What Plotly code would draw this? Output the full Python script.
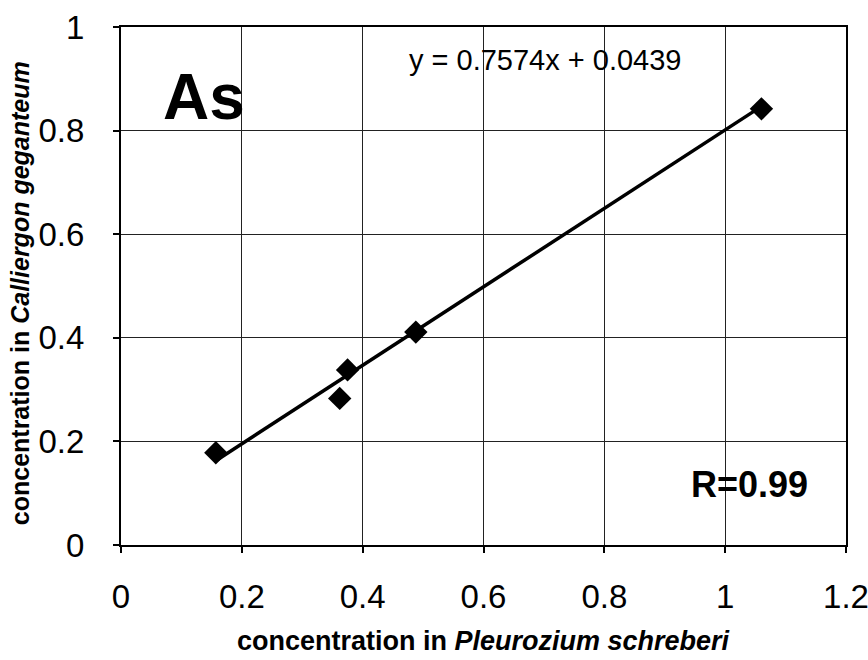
import plotly.graph_objects as go

# Arsenic concentrations measured in two moss species
x_pleurozium = [0.157, 0.362, 0.375, 0.488, 1.060]
y_calliergon = [0.178, 0.283, 0.338, 0.411, 0.842]

# Linear fit reported on the chart
slope = 0.7574
intercept = 0.0439
r_value = 0.99

x_ticks = [0, 0.2, 0.4, 0.6, 0.8, 1.0, 1.2]
x_tick_text = ["0", "0.2", "0.4", "0.6", "0.8", "1", "1.2"]
y_ticks = [0, 0.2, 0.4, 0.6, 0.8, 1.0]
y_tick_text = ["0", "0.2", "0.4", "0.6", "0.8", "1"]

FONT = "Liberation Sans, Arial, Helvetica, sans-serif"

x_fit = [min(x_pleurozium), max(x_pleurozium)]
y_fit = [slope * v + intercept for v in x_fit]

fig = go.Figure()
fig.add_trace(go.Scatter(
    x=x_fit, y=y_fit, mode="lines",
    line=dict(color="black", width=3.5),
    showlegend=False, hoverinfo="skip",
))
fig.add_trace(go.Scatter(
    x=x_pleurozium, y=y_calliergon, mode="markers",
    marker=dict(symbol="diamond", size=18, color="black"),
    showlegend=False,
))

fig.add_annotation(
    x=0.137, y=0.865, xref="x", yref="y", text="<b>As</b>", showarrow=False,
    font=dict(family=FONT, size=64, color="black"),
)
fig.add_annotation(
    x=0.702, y=0.936, xref="x", yref="y",
    text=f"y = {slope}x + {intercept}", showarrow=False,
    font=dict(family=FONT, size=29, color="black"),
)
fig.add_annotation(
    x=1.04, y=0.116, xref="x", yref="y", text=f"<b>R={r_value}</b>", showarrow=False,
    font=dict(family=FONT, size=36, color="black"),
)

# Axis titles
fig.add_annotation(
    x=0.5, y=-0.186, xref="paper", yref="paper", yanchor="middle",
    text="<b>concentration in <i>Pleurozium schreberi</i></b>", showarrow=False,
    borderpad=0, font=dict(family=FONT, size=27, color="black"),
)
fig.add_annotation(
    x=-0.139, y=0.4865, xref="paper", yref="paper", xanchor="center",
    text="<b>concentration in <i>Calliergon geganteum</i></b>", showarrow=False,
    textangle=-90, font=dict(family=FONT, size=25, color="black"),
)

fig.update_layout(
    width=868, height=660,
    margin=dict(l=121, r=22, t=27, b=115),
    paper_bgcolor="white", plot_bgcolor="white",
    font=dict(family=FONT, color="black"),
    xaxis=dict(
        range=[0, 1.2], tickvals=x_ticks, ticktext=x_tick_text,
        tickfont=dict(size=33), ticks="outside", ticklen=6, tickwidth=1.5,
        tickcolor="black", ticklabelstandoff=15, automargin=False,
        ticklabeloverflow="allow",
        showgrid=True, gridcolor="#222", gridwidth=1.2,
        showline=True, linecolor="black", linewidth=2, mirror=True,
        zeroline=False,
    ),
    yaxis=dict(
        range=[0, 1.0], tickvals=y_ticks, ticktext=y_tick_text,
        tickfont=dict(size=33), ticks="outside", ticklen=6, tickwidth=1.5,
        tickcolor="black", ticklabelstandoff=22, automargin=False,
        ticklabeloverflow="allow",
        showgrid=True, gridcolor="#222", gridwidth=1.2,
        showline=True, linecolor="black", linewidth=2, mirror=True,
        zeroline=False,
    ),
)

fig.write_html("out.html")
